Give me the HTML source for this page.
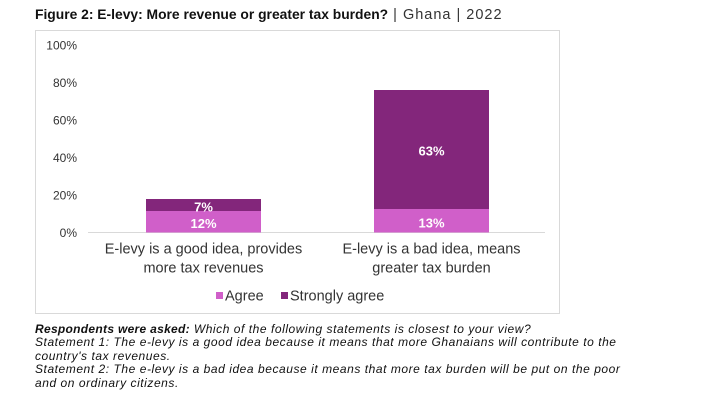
<!DOCTYPE html>
<html><head><meta charset="utf-8"><style>
html,body{margin:0;padding:0;background:#fff;width:711px;height:408px;overflow:hidden}
body{position:relative;font-family:"Liberation Sans",sans-serif;color:#222}
.t{position:absolute;white-space:nowrap}
</style></head><body>
<div class="t" style="left:35px;top:5px;font-size:13.85px;line-height:18px;color:#111"><b>Figure 2: E-levy: More revenue or greater tax burden?</b><span style="color:#333;font-size:14.5px;letter-spacing:1px"> | Ghana | 2022</span></div>
<svg style="position:absolute;left:0;top:0" width="711" height="408" xmlns="http://www.w3.org/2000/svg" font-family="Liberation Sans, sans-serif">
<rect x="35.5" y="30.5" width="524" height="283" fill="#fff" stroke="#d9d9d9" stroke-width="1"/>
<g font-size="12" fill="#333" text-anchor="end">
<text x="77" y="49.5">100%</text>
<text x="77" y="87">80%</text>
<text x="77" y="124.5">60%</text>
<text x="77" y="162">40%</text>
<text x="77" y="199.5">20%</text>
<text x="77" y="237">0%</text>
</g>
<line x1="88" y1="232.5" x2="545" y2="232.5" stroke="#d9d9d9" stroke-width="1"/>
<rect x="146" y="211" width="115" height="21.5" fill="#d05fc9"/>
<rect x="146" y="199" width="115" height="12" fill="#83267b"/>
<rect x="374" y="209" width="115" height="23.5" fill="#d05fc9"/>
<rect x="374" y="90" width="115" height="119" fill="#83267b"/>
<g font-size="13" font-weight="bold" fill="#fff" text-anchor="middle">
<text x="203.5" y="228">12%</text>
<text x="203.5" y="211.5">7%</text>
<text x="431.5" y="227.5">13%</text>
<text x="431.5" y="155.5">63%</text>
</g>
<g font-size="14.5" fill="#333" text-anchor="middle">
<text x="203.5" y="253.5">E-levy is a good idea, provides</text>
<text x="203.5" y="272.5">more tax revenues</text>
<text x="431.5" y="253.5">E-levy is a bad idea, means</text>
<text x="431.5" y="272.5">greater tax burden</text>
</g>
<rect x="216" y="292" width="7" height="7" fill="#d05fc9"/>
<text x="225" y="300.5" font-size="14.5" fill="#333">Agree</text>
<rect x="281" y="292" width="7" height="7" fill="#83267b"/>
<text x="290" y="300.5" font-size="14.5" fill="#333">Strongly agree</text>
</svg>
<div class="t" style="left:35px;top:323px;font-size:12px;letter-spacing:0.55px;line-height:13.4px;font-style:italic;color:#111">
<b style="letter-spacing:0.3px">Respondents were asked:</b> Which of the following statements is closest to your view?<br>
Statement 1: The e-levy is a good idea because it means that more Ghanaians will contribute to the<br>
country's tax revenues.<br>
Statement 2: The e-levy is a bad idea because it means that more tax burden will be put on the poor<br>
and on ordinary citizens.
</div>
</body></html>
